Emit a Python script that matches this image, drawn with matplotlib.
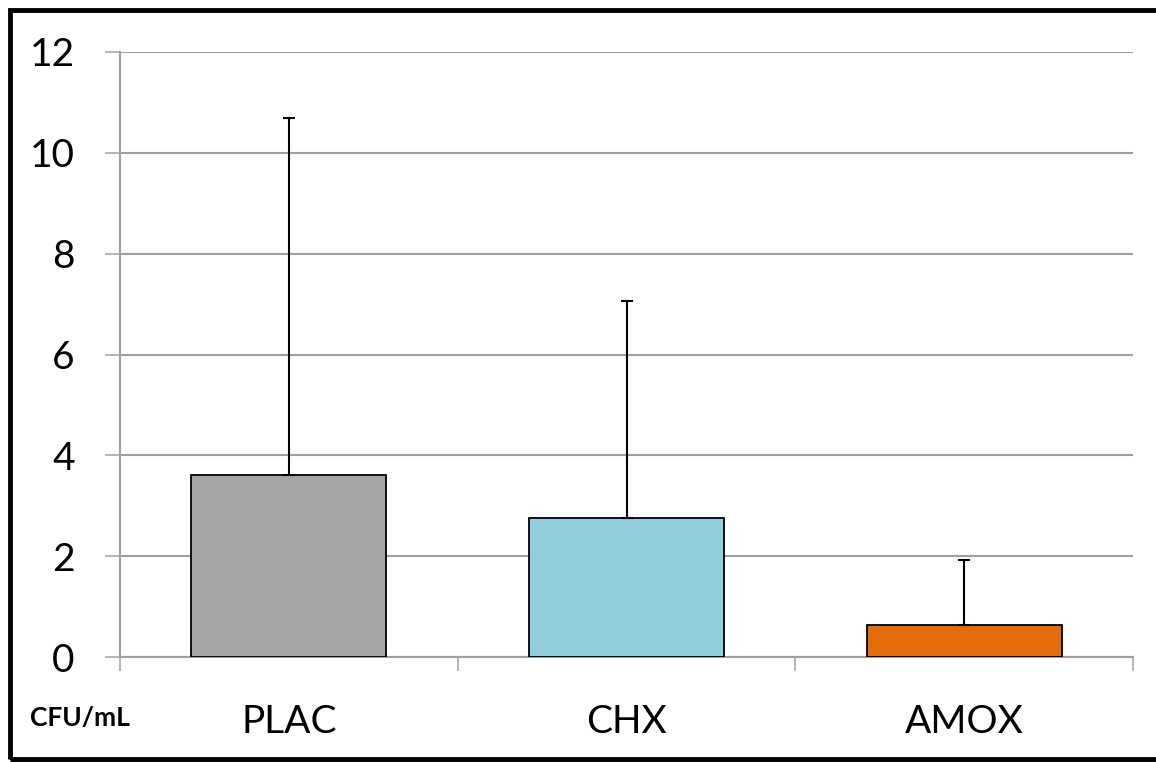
import matplotlib
matplotlib.use("Agg")
import matplotlib.pyplot as plt
from matplotlib.patches import Rectangle
from matplotlib.ticker import FixedLocator

categories = ["PLAC", "CHX", "AMOX"]
means = [3.61, 2.76, 0.63]
upper_err = [7.08, 4.30, 1.29]
colors = ["#A5A5A5", "#92CDDC", "#E46C0A"]
yticks = [0, 2, 4, 6, 8, 10, 12]

plt.rcParams['font.family'] = ['Lato', 'DejaVu Sans']
W, H = 1156, 762
fig = plt.figure(figsize=(W / 100, H / 100), dpi=100)
ax = fig.add_axes([120 / W, 105 / H, (1133 - 120) / W, (657 - 52) / H])

x = list(range(len(categories)))
ax.bar(x, means, width=0.577, color=colors, edgecolor="black", linewidth=1.3, zorder=3)
ax.errorbar(x, means, yerr=[[0] * len(means), upper_err], fmt="none", ecolor="black",
            elinewidth=1.5, capsize=4.3, capthick=1.5, zorder=4)

ax.set_xlim(-0.5, len(categories) - 0.5)
ax.set_ylim(0, 12)
ax.set_yticks(yticks)
ax.set_xticks(x)
ax.set_xticklabels(categories)
ax.xaxis.set_minor_locator(FixedLocator([i - 0.5 for i in range(len(categories) + 1)]))

grid_c = "#a0a0a0"
ax.yaxis.grid(True, color=grid_c, linewidth=1.5, zorder=0)
ax.set_axisbelow(True)
for s in ["top", "right"]:
    ax.spines[s].set_visible(False)
for s in ["left", "bottom"]:
    ax.spines[s].set_color(grid_c)
    ax.spines[s].set_linewidth(1.5)

ax.tick_params(axis="y", which="major", length=11, width=1.1, color=grid_c, pad=21.5, labelsize=28)
ax.tick_params(axis="x", which="major", length=0, pad=34, labelsize=28)
ax.tick_params(axis="x", which="minor", length=10, width=1.1, color=grid_c)

fig.text(80 / W, 1 - 718 / H, "CFU/mL", fontsize=19, fontweight="bold", ha="center", va="center")

fig.patches.append(Rectangle((10 / W, 3 / H), 1.1, 1 - 13 / H, transform=fig.transFigure,
                             fill=False, edgecolor="black", linewidth=3.5, zorder=10))

fig.savefig("out.png", dpi=100)
